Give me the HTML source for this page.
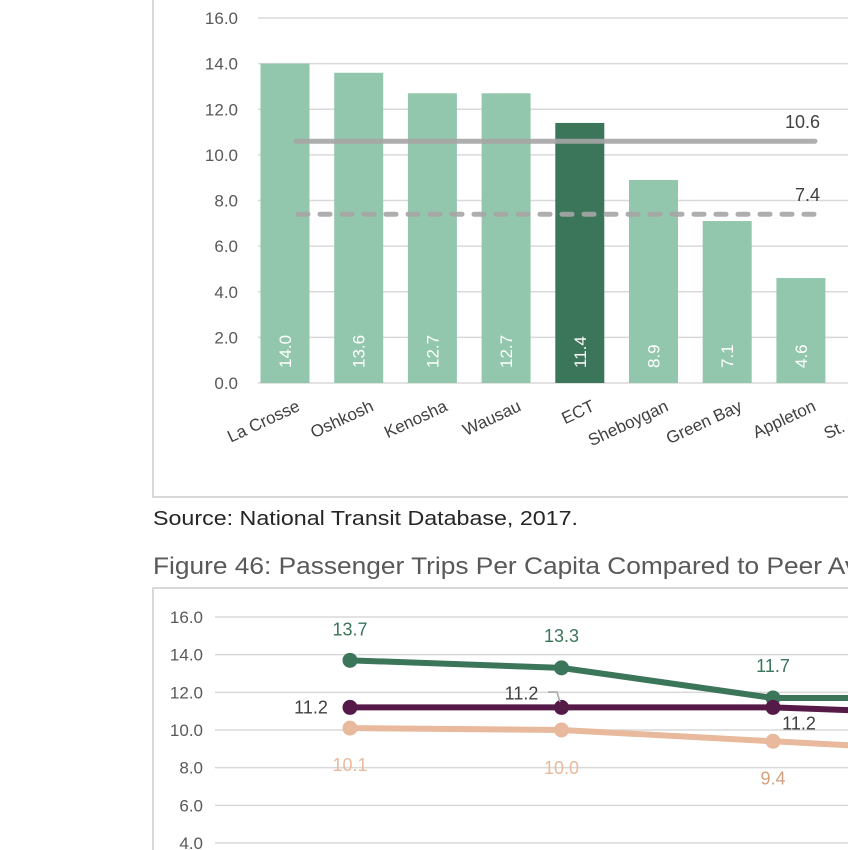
<!DOCTYPE html>
<html><head><meta charset="utf-8"><style>
html,body{margin:0;padding:0;background:#fff;}
svg{display:block;font-family:"Segoe UI","Liberation Sans",sans-serif;}
</style></head><body>
<svg id="s" width="848" height="850" viewBox="0 0 848 850" xmlns="http://www.w3.org/2000/svg">
<rect x="153" y="-5" width="720" height="502" fill="#fff" stroke="#d9d9d9" stroke-width="2"/>
<g id="bar"></g>
<text x="153" y="525" font-size="20" fill="#262626" textLength="425" lengthAdjust="spacingAndGlyphs">Source: National Transit Database, 2017.</text>
<text x="153" y="574" font-size="24" fill="#595959" textLength="705" lengthAdjust="spacingAndGlyphs">Figure 46: Passenger Trips Per Capita Compared to Peer Av</text>
<rect x="153" y="588" width="720" height="300" fill="#fff" stroke="#d9d9d9" stroke-width="2"/>
<g id="line"></g>
</svg>
<script>
const barCats=["La Crosse","Oshkosh","Kenosha","Wausau","ECT","Sheboygan","Green Bay","Appleton","St. Cloud"];
const barVals=[14.0,13.6,12.7,12.7,11.4,8.9,7.1,4.6,4.0];
const barTicks=[0,2,4,6,8,10,12,14,16];
const avgAll=[10.6];
const avgWi=[7.4];
const lineGreen=[13.7,13.3,11.7,11.7];
const linePurple=[11.2,11.2,11.2,10.8];
const linePeach=[10.1,10.0,9.4,8.8];
const lineTicks=[4,6,8,10,12,14,16];

const NS="http://www.w3.org/2000/svg";
function mk(p,t,a,txt){const e=document.createElementNS(NS,t);for(const k in a)e.setAttribute(k,a[k]);if(txt!==undefined)e.textContent=txt;p.appendChild(e);return e;}
const g=document.getElementById('bar');
const by=v=>383-v*(365/16);
const bx=i=>285+i*73.7;
barTicks.forEach(t=>{
 const l=mk(g,'line',{x1:258,x2:848,y1:by(t),y2:by(t),stroke:'#d9d9d9','stroke-width':1.5});
 
 
 const tx=mk(g,'text',{x:238,y:by(t)+6,'text-anchor':'end','font-size':17,fill:'#595959'},t.toFixed(1));
 
 
});
barVals.forEach((v,i)=>{
 const x=bx(i);
 const r=mk(g,'rect',{x:x-24.5,y:by(v),width:49,height:by(0)-by(v),fill:barCats[i]==="ECT"?'#3b755a':'#92c7ad'});
 
 
 const vl=mk(g,'text',{x:0,y:0,transform:`translate(${x+6},${368}) rotate(-90)`,'font-size':17,fill:'#fff'},v.toFixed(1));
 
 
 const cl=mk(g,'text',{x:0,y:0,transform:`translate(${x+16},${410}) rotate(-25)`,'text-anchor':'end','font-size':17,fill:'#404040'},barCats[i]);
 
 
});
const a1=mk(g,'line',{x1:296,x2:815,y1:by(avgAll[0]),y2:by(avgAll[0]),stroke:'#a6a6a6','stroke-width':5,'stroke-linecap':'round',opacity:0.9});


const a1t=mk(g,'text',{x:820,y:by(avgAll[0])-13,'text-anchor':'end','font-size':18,fill:'#404040'},avgAll[0].toFixed(1));


const a2=mk(g,'line',{x1:298,x2:815,y1:by(avgWi[0]),y2:by(avgWi[0]),stroke:'#a6a6a6','stroke-width':5,'stroke-linecap':'round','stroke-dasharray':'10 12',opacity:0.9});


const a2t=mk(g,'text',{x:820,y:by(avgWi[0])-13,'text-anchor':'end','font-size':18,fill:'#404040'},avgWi[0].toFixed(1));


const h=document.getElementById('line');
const ly=v=>730-(v-10)*(113/6);
const lx=i=>350+i*211.5;
lineTicks.forEach(t=>{
 const l=mk(h,'line',{x1:215,x2:848,y1:ly(t),y2:ly(t),stroke:'#d9d9d9','stroke-width':1.5});
 
 
 const tx=mk(h,'text',{x:203,y:ly(t)+6,'text-anchor':'end','font-size':17,fill:'#595959'},t.toFixed(1));
 
 
});
function series(vals,color,name,labelPos){
 const pts=vals.map((v,i)=>lx(i)+','+ly(v)).join(' ');
 const pl=mk(h,'polyline',{points:pts,fill:'none',stroke:color,'stroke-width':6,'stroke-linejoin':'round'});
 
 
 vals.forEach((v,i)=>{
  const c=mk(h,'circle',{cx:lx(i),cy:ly(v),r:7.5,fill:color});
  
  
  if(i<3){const p=labelPos[i];
   const t=mk(h,'text',{x:lx(i)+p[0],y:ly(v)+p[1],'text-anchor':'middle','font-size':18,fill:p[2]||color},v.toFixed(1));
   
   }
 });
}
series(linePeach,'#e8b99c','peach-series',[[0,43],[0,44],[0,43,'#d4a07e']]);
series(lineGreen,'#3b755a','green-series',[[0,-25],[0,-26],[0,-26]]);
series(linePurple,'#561a48','purple-series',[[-39,6,'#404040'],[-40,-8,'#404040'],[26,22,'#404040']]);
const lead=mk(h,'polyline',{points:`548,692 557,692 560,702`,fill:'none',stroke:'#a6a6a6','stroke-width':1.5});


</script>
</body></html>
